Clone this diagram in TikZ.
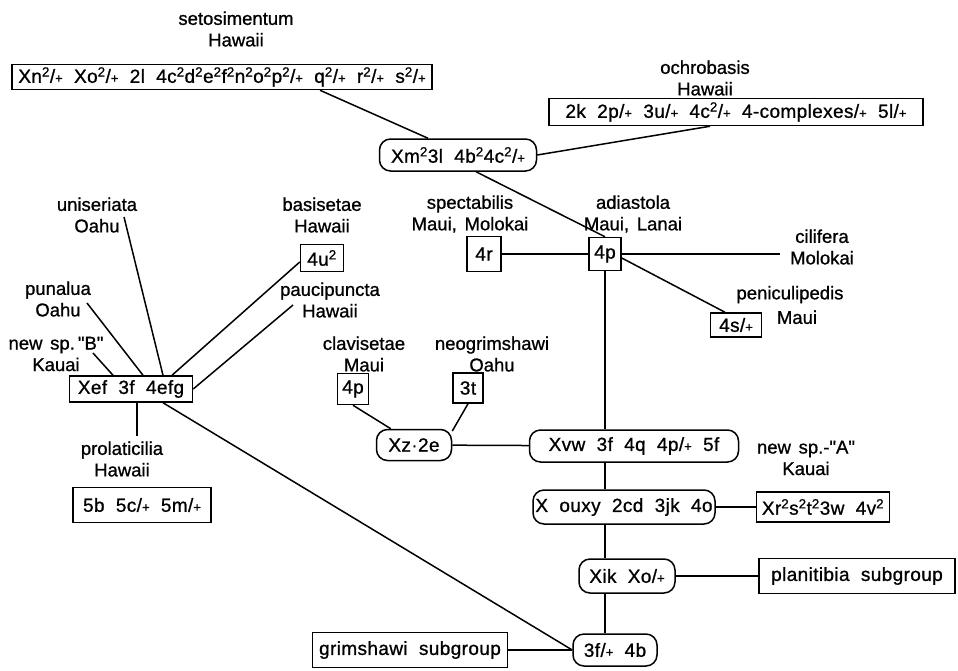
\documentclass[tikz,border=0pt]{standalone}
\usepackage{fontspec}
\setmainfont{Liberation Sans}[Ligatures=TeXOff, WordSpace=1.5, FakeBold=0.9]
\newfontfamily\boxfont{Liberation Sans}[Ligatures=TeXOff, WordSpace=2, LetterSpace=2, FakeBold=0.9]
\newcommand{\sqr}{\textsuperscript{2}}
\newcommand{\het}{/{\fontsize{13}{13}\selectfont +}}

\begin{document}
\begin{tikzpicture}[x=1pt, y=-1pt,
        font=\fontsize{18.5}{21.5}\selectfont,
        gene/.style={draw, line width=1.5pt, inner sep=1pt, font=\boxfont\fontsize{19}{21}\selectfont},
        rgene/.style={gene, rounded corners=11pt},
        lab/.style={align=center, inner sep=0pt},
        link/.style={line width=1.5pt}]
        \useasboundingbox (0,0) rectangle (958,670);

        % top row
        \node [lab] (lSeto) at (236,29) {setosimentum\\Hawaii};
        \node [gene, minimum width=420pt, minimum height=25pt] (seto) at (222,77) {Xn\sqr\het{} Xo\sqr\het{} 2l 4c\sqr d\sqr e\sqr f\sqr n\sqr o\sqr p\sqr\het{} q\sqr\het{} r\sqr\het{} s\sqr\het};
        \node [lab] (lOchro) at (705,78) {ochrobasis\\Hawaii};
        \node [gene, minimum width=374pt, minimum height=27pt] (ochro) at (736,112) {2k 2p\het{} 3u\het{} 4c\sqr\het{} 4-complexes\het{} 5l\het};
        \node [rgene, minimum width=157pt, minimum height=32pt] (Xm) at (458,155) {Xm\sqr 3l 4b\sqr 4c\sqr\het};

        % left group
        \node [lab] (lUni) at (97,215) {uniseriata\\Oahu};
        \node [lab] (lBasi) at (322,215) {basisetae\\Hawaii};
        \node [gene, minimum width=43pt, minimum height=27pt] (u4) at (322,258) {4u\sqr};
        \node [lab] (lPauci) at (330,300) {paucipuncta\\Hawaii};
        \node [lab] (lPuna) at (58,299) {punalua\\Oahu};
        \node [lab] (lNewB) at (56,354) {new sp.\,"B"\\Kauai};
        \node [gene, minimum width=123pt, minimum height=26pt] (Xef) at (131,389) {Xef 3f 4efg};
        \node [lab] (lProla) at (122,459) {prolaticilia\\Hawaii};
        \node [gene, minimum width=138pt, minimum height=35pt] (b5) at (142,505) {5b 5c\het{} 5m\het};

        % adiastola group
        \node [lab] (lSpect) at (470,214) {spectabilis\\Maui, Molokai};
        \node [gene, minimum width=34pt, minimum height=35pt] (r4) at (484,254) {4r};
        \node [lab] (lAdia) at (633,214) {adiastola\\Maui, Lanai};
        \node [gene, minimum width=32pt, minimum height=33pt] (pA) at (605,254) {4p};
        \node [lab] (lCili) at (822,247) {cilifera\\Molokai};
        \node [lab] (lPeni) at (790,305) {peniculipedis\\[3pt]\hspace*{14pt}Maui};
        \node [gene, minimum width=51pt, minimum height=24pt] (s4) at (736,325) {4s\het};

        % middle
        \node [lab] (lClavi) at (364,354) {clavisetae\\Maui};
        \node [gene, minimum width=31pt, minimum height=31pt] (pC) at (353,389) {4p};
        \node [lab] (lNeo) at (492,354) {neogrimshawi\\Oahu};
        \node [gene, minimum width=30pt, minimum height=30pt] (t3) at (468,388) {3t};
        \node [rgene, minimum width=75pt, minimum height=31pt] (Xz) at (414,445) {Xz·2e};
        \node [rgene, minimum width=209pt, minimum height=32pt] (Xvw) at (634,446) {Xvw 3f 4q 4p\het{} 5f};
        \node [lab] (lNewA) at (806,458) {new sp.-"A"\\Kauai};
        \node [rgene, minimum width=182pt, minimum height=34pt] (Xouxy) at (624,507) {X ouxy 2cd 3jk 4o};
        \node [gene, minimum width=133pt, minimum height=30pt] (Xr) at (823,507) {Xr\sqr s\sqr t\sqr 3w 4v\sqr};
        \node [rgene, minimum width=96pt, minimum height=34pt] (Xik) at (627,576) {Xik Xo\het};
        \node [gene, minimum width=196pt, minimum height=35pt] (plan) at (857,576) {planitibia subgroup};
        \node [gene, minimum width=195pt, minimum height=35pt] (grim) at (410,650) {grimshawi subgroup};
        \node [rgene, minimum width=84pt, minimum height=32pt] (f3) at (615,650) {3f\het{} 4b};

        % free ends at the labels
        \coordinate (cUni) at (124,217);
        \coordinate (cPuna) at (87,303);
        \coordinate (cNewB) at (93,353);
        \coordinate (cPauci) at (293,305);
        \coordinate (cProla) at (137,436);
        \coordinate (cCili) at (780,254);

        \draw[link] ([xshift=98pt]seto.south) -- ([xshift=-30pt]Xm.north);
        \draw[link] (Xm.east) -- ([xshift=-26pt]ochro.south);
        \draw[link] ([xshift=18pt]Xm.south) -- (pA.north);
        \draw[link] (r4) -- (pA);
        \draw[link] (pA) -- (cCili);
        \draw[link] ([yshift=-4pt]pA.east) -- ([xshift=-11pt]s4.north);
        \draw[link] (pA) -- (Xvw.north -| pA);
        \draw[link] (Xvw.south -| pA) -- (Xouxy.north -| pA);
        \draw[link] (Xouxy.south -| pA) -- (Xik.north -| pA);
        \draw[link] (Xik.south -| pA) -- (f3.north -| pA);
        \draw[link] (Xouxy) -- (Xr);
        \draw[link] (Xik) -- (plan);
        \draw[link] (grim) -- (f3);
        \draw[link] (Xz) -- (Xvw);
        \draw[link] (pC.south) -- (Xz.145);
        \draw[link] (t3.south) -- (Xz.20);

        \draw[link] ([xshift=32pt]Xef.south) -- (f3.west);
        \draw[link] (Xef.south -| cProla) -- (cProla);
        \draw[link] (cUni) -- ([xshift=32pt]Xef.north);
        \draw[link] (cPuna) -- ([xshift=12pt]Xef.north);
        \draw[link] (cNewB) -- ([xshift=-18pt]Xef.north);
        \draw[link] ([yshift=-4pt]u4.west) -- ([xshift=41pt]Xef.north);
        \draw[link] (cPauci) -- (Xef.east);
\end{tikzpicture}
\end{document}
